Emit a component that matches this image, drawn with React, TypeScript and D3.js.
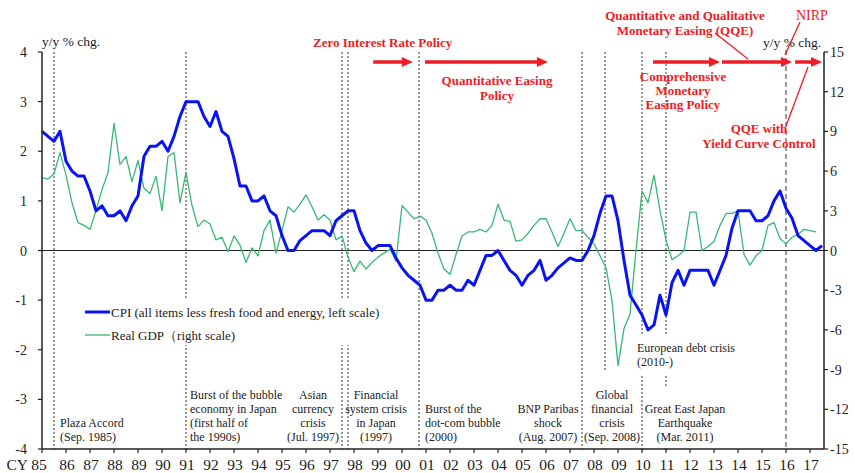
import * as d3 from "d3";

// quarterly observations from 1985Q1
const cpi = [
  2.4, 2.3, 2.2, 2.4, 1.8, 1.6, 1.5, 1.5, 1.2, 0.8,
  0.9, 0.7, 0.7, 0.8, 0.6, 0.9, 1.1, 1.9, 2.1, 2.1,
  2.2, 2.0, 2.3, 2.7, 3.0, 3.0, 3.0, 2.7, 2.5, 2.8,
  2.4, 2.3, 1.85, 1.3, 1.3, 1.0, 1.0, 1.1, 0.8, 0.7,
  0.3, 0.0, 0.0, 0.2, 0.3, 0.4, 0.4, 0.4, 0.3, 0.6,
  0.7, 0.8, 0.8, 0.4, 0.15, 0.0, 0.1, 0.1, 0.1, -0.15,
  -0.35, -0.5, -0.6, -0.7, -1.0, -1.0, -0.8, -0.8, -0.7, -0.8,
  -0.8, -0.6, -0.7, -0.4, -0.1, -0.1, 0.0, -0.2, -0.4, -0.5,
  -0.7, -0.5, -0.4, -0.2, -0.6, -0.5, -0.35, -0.25, -0.15, -0.2,
  -0.2, 0.0, 0.3, 0.75, 1.1, 1.1, 0.6, -0.2, -0.9, -1.1,
  -1.3, -1.6, -1.5, -0.9, -1.3, -0.65, -0.4, -0.7, -0.4, -0.4,
  -0.4, -0.4, -0.7, -0.4, -0.1, 0.45, 0.8, 0.8, 0.8, 0.6,
  0.6, 0.7, 1.0, 1.2, 0.85, 0.65, 0.3, 0.2, 0.1, 0.0,
  0.1,
];

const gdp = [
  5.5, 5.4, 5.8, 7.4, 5.7, 3.6, 2.1, 1.9, 1.6, 3.0,
  4.6, 5.9, 9.6, 6.5, 7.1, 5.2, 6.8, 4.7, 4.3, 5.6,
  3.0, 7.1, 7.4, 3.6, 5.9, 3.4, 1.8, 2.3, 2.0, 0.8,
  1.0, -0.1, 1.1, 0.4, -0.9, 0.2, -0.4, 1.5, 2.3, -0.2,
  1.5, 3.3, 2.9, 3.5, 4.2, 3.3, 2.3, 2.7, 2.3, 0.8,
  1.1, -0.5, -1.6, -0.8, -1.4, -0.9, -0.5, -0.2, 0.1, -0.8,
  3.4, 2.9, 2.4, 2.6, 2.3, 1.3, -0.2, -1.4, -1.8, -0.3,
  1.1, 1.4, 1.4, 1.6, 1.4, 1.9, 3.5, 2.3, 2.2, 0.7,
  0.8, 1.3, 1.9, 2.4, 2.4, 1.4, 0.3, 1.3, 2.4, 1.5,
  1.5, 1.0, 0.5, -0.4, -1.3, -3.8, -8.7, -5.9, -4.8, 0.0,
  4.5, 3.6, 5.7, 3.0, 0.8, -0.7, -0.4, 0.0, 2.9, 2.9,
  0.0, 0.3, 0.7, 1.9, 2.8, 2.8, 3.0, -0.3, -1.1, -0.4,
  0.0, 1.9, 2.1, 0.9, 0.5, 1.0, 1.2, 1.6, 1.5, 1.4,
];

const years = d3.range(1985, 2018);
const leftTicks = d3.range(-4, 5, 1);
const rightTicks = d3.range(-15, 16, 3);

// events (dotted) and NIRP (dashed)
const eventYears = [1985.5, 1991.0, 1997.5, 1997.75, 2000.71, 2007.5, 2008.46, 2010.0, 2011.0];
const nirpYear = 2016.0;

// policy periods drawn as red arrows
const policyStart = [1998.8, 2000.96, 2010.46, 2013.33, 2016.38];
const policyEnd = [2000.45, 2006.08, 2013.25, 2016.25, 2017.5];

const SERIF = "'Liberation Serif', 'Times New Roman', serif";
const RED = "#ee1c25";
const BLUE = "#0a14f0";
const GREEN = "#38b874";

const eventLabels = [
  { lines: ["Plaza Accord", "(Sep. 1985)"], x: 60, y: 427, anchor: "start" },
  { lines: ["Burst of the bubble", "economy in Japan", "(first half of", "the 1990s)"], x: 190, y: 399, anchor: "start" },
  { lines: ["Asian", "currency", "crisis", "(Jul. 1997)"], x: 313, y: 399, anchor: "middle" },
  { lines: ["Financial", "system crisis", "in Japan", "(1997)"], x: 376, y: 399, anchor: "middle" },
  { lines: ["Burst of the", "dot-com bubble", "(2000)"], x: 425, y: 413, anchor: "start" },
  { lines: ["BNP Paribas", "shock", "(Aug. 2007)"], x: 548, y: 413, anchor: "middle" },
  { lines: ["Global", "financial", "crisis", "(Sep. 2008)"], x: 612, y: 399, anchor: "middle", bg: [586, 371, 53, 76] },
  { lines: ["Great East Japan", "Earthquake", "(Mar. 2011)"], x: 685, y: 413, anchor: "middle", bg: [643, 386, 85, 61] },
  { lines: ["European debt crisis", "(2010-)"], x: 637, y: 352, anchor: "start", bg: [638, 334, 115, 42] },
];

const redLabels = [
  { lines: ["Zero Interest Rate Policy"], x: 313, y: 47, anchor: "start" },
  { lines: ["Quantitative Easing", "Policy"], x: 497, y: 85, anchor: "middle" },
  { lines: ["Quantitative and Qualitative", "Monetary Easing (QQE)"], x: 685, y: 20, anchor: "middle" },
  { lines: ["Comprehensive", "Monetary", "Easing Policy"], x: 683, y: 81, anchor: "middle" },
  { lines: ["QQE with", "Yield Curve Control"], x: 759, y: 133, anchor: "middle" },
];

export default function App() {
  const x = d3.scaleLinear().domain([1985, 2017.583]).range([42, 824]);
  const yL = d3.scaleLinear().domain([-4, 4]).range([449, 52]);
  const yR = d3.scaleLinear().domain([-15, 15]).range([449, 52]);
  const qx = (i: number) => x(1985 + i / 4);

  const cpiPath = d3.line<number>().x((_, i) => qx(i)).y((d) => yL(d))(cpi) || "";
  const gdpPath = d3.line<number>().x((_, i) => qx(i)).y((d) => yR(d))(gdp) || "";

  const [x0, x1] = x.range();
  const [yBot, yTop] = yL.range();
  const arrowY = 62;

  return (
    <svg width={855} height={473} style={{ position: "absolute", left: 0, top: 0, background: "#fff" }} fontFamily={SERIF}>
      {/* event lines */}
      {eventYears.map((yr, i) => (
        <line key={"ev" + i} x1={x(yr)} x2={x(yr)} y1={yTop} y2={yBot} stroke="#333" strokeWidth={1} strokeDasharray="2,2" />
      ))}
      <line x1={x(nirpYear)} x2={x(nirpYear)} y1={yTop - 2} y2={yBot} stroke="#333" strokeWidth={1} strokeDasharray="5,3" />

      {/* event labels */}
      {eventLabels.map((lb, i) => (
        <g key={"el" + i}>
          {lb.bg && <rect x={lb.bg[0]} y={lb.bg[1]} width={lb.bg[2]} height={lb.bg[3]} fill="#fff" />}
          <text x={lb.x} y={lb.y} fontSize={12} fill="#222" textAnchor={lb.anchor}>
            {lb.lines.map((t, j) => (
              <tspan key={j} x={lb.x} dy={j === 0 ? 0 : 14}>{t}</tspan>
            ))}
          </text>
        </g>
      ))}

      {/* legend background hides event lines */}
      <rect x={80} y={300} width={305} height={45} fill="#fff" />

      {/* zero line */}
      <line x1={x0} x2={x1} y1={yL(0)} y2={yL(0)} stroke="#222" strokeWidth={1.2} />

      {/* series */}
      <path d={gdpPath} fill="none" stroke={GREEN} strokeWidth={1.3} strokeLinejoin="round" />
      <path d={cpiPath} fill="none" stroke={BLUE} strokeWidth={3} strokeLinejoin="round" />

      {/* axes */}
      <line x1={x0} x2={x0} y1={yTop} y2={yBot} stroke="#222" strokeWidth={1.5} />
      <line x1={x1} x2={x1} y1={yTop} y2={yBot} stroke="#222" strokeWidth={1.5} />
      <line x1={x0} x2={x1} y1={yBot} y2={yBot} stroke="#222" strokeWidth={1.5} />
      {leftTicks.map((t) => (
        <g key={"lt" + t}>
          <line x1={x0 - 4} x2={x0} y1={yL(t)} y2={yL(t)} stroke="#222" strokeWidth={1.2} />
          <text x={x0 - 15} y={yL(t) + 5} fontSize={14} textAnchor="end" fill="#222">{t}</text>
        </g>
      ))}
      {rightTicks.map((t) => (
        <g key={"rt" + t}>
          <line x1={x1} x2={x1 + 4} y1={yR(t)} y2={yR(t)} stroke="#222" strokeWidth={1.2} />
          <text x={x1 + 6} y={yR(t) + 5} fontSize={14} textAnchor="start" fill="#222">{t}</text>
        </g>
      ))}
      {years.map((yr) => (
        <g key={"yr" + yr}>
          <line x1={x(yr)} x2={x(yr)} y1={yBot} y2={yBot + 4} stroke="#222" strokeWidth={1.2} />
          <text x={yr === 1985 ? x(yr) - 3 : x(yr) + 1} y={470} fontSize={15.5} textAnchor="middle" fill="#222">
            {String(yr % 100).padStart(2, "0")}
          </text>
        </g>
      ))}
      <text x={28} y={470} fontSize={15.5} textAnchor="end" fill="#222">CY</text>
      <text x={42} y={46} fontSize={13.5} fill="#222">y/y % chg.</text>
      <text x={763} y={47} fontSize={13.5} fill="#222">y/y % chg.</text>

      {/* legend */}
      <line x1={85} x2={110} y1={312} y2={312} stroke={BLUE} strokeWidth={3} />
      <text x={111} y={316.5} fontSize={13} fill="#222">CPI (all items less fresh food and energy, left scale)</text>
      <line x1={85} x2={110} y1={335} y2={335} stroke={GREEN} strokeWidth={1.3} />
      <text x={111} y={339.5} fontSize={13} fill="#222">Real GDP（right scale)</text>

      {/* policy arrows */}
      {policyStart.map((s, i) => {
        const a = x(s);
        const b = x(policyEnd[i]);
        return (
          <g key={"ar" + i}>
            <line x1={a} x2={b - 9} y1={arrowY} y2={arrowY} stroke={RED} strokeWidth={3.5} />
            <path d={`M${b},${arrowY}L${b - 11},${arrowY - 5}L${b - 11},${arrowY + 5}Z`} fill={RED} />
          </g>
        );
      })}

      {/* leader lines */}
      <line x1={715} y1={33} x2={748} y2={59} stroke={RED} strokeWidth={1.3} />
      <line x1={800} y1={22} x2={785} y2={55} stroke={RED} strokeWidth={1.3} />
      <line x1={786} y1={126} x2={808} y2={67} stroke={RED} strokeWidth={1.3} />

      {redLabels.map((lb, i) => (
        <text key={"rl" + i} x={lb.x} y={lb.y} fontSize={13} fontWeight="bold" fill={RED} textAnchor={lb.anchor}>
          {lb.lines.map((t, j) => (
            <tspan key={j} x={lb.x} dy={j === 0 ? 0 : lb.lines.length === 3 ? 14 : 15}>{t}</tspan>
          ))}
        </text>
      ))}
      <text x={796} y={20} fontSize={14} fill={RED}>NIRP</text>
    </svg>
  );
}
